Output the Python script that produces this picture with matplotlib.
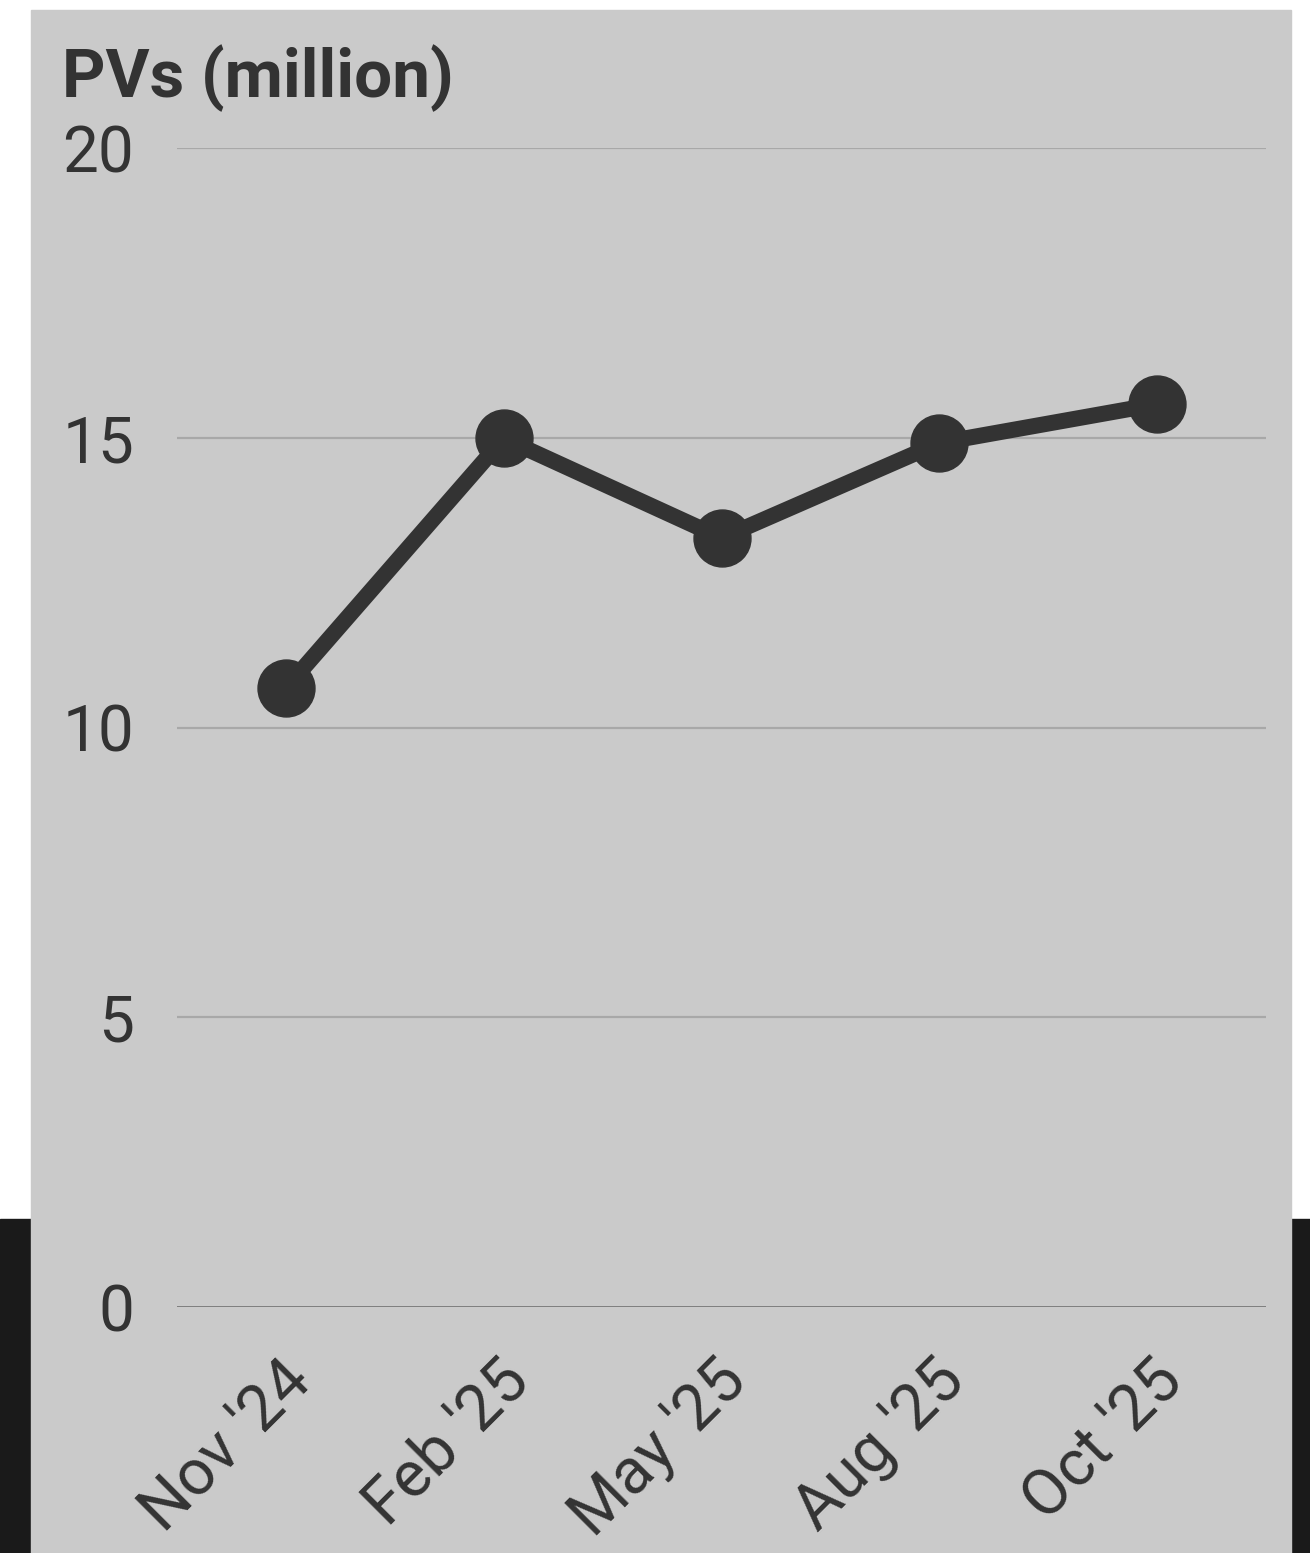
import matplotlib.pyplot as plt
from matplotlib.patches import Rectangle
from matplotlib.transforms import ScaledTranslation

months = ["Nov '24", "Feb '25", "May '25", "Aug '25", "Oct '25"]
pvs = [10.68, 14.99, 13.27, 14.91, 15.58]
yticks = [0, 5, 10, 15, 20]

W, H = 1310, 1553
fig = plt.figure(figsize=(W/100, H/100), dpi=100)
plt.rcParams['font.family'] = ['Roboto', 'DejaVu Sans']

# backdrop: dark band at the bottom, grey panel on top
fig.patches.append(Rectangle((0, 0), 1, 1-1219/H, transform=fig.transFigure,
                             color='#1a1a1a', zorder=-2))
fig.patches.append(Rectangle((31/W, 0), (1291-31)/W, 1-10/H, transform=fig.transFigure,
                             color='#cacaca', zorder=-1))

ax = fig.add_axes([177/W, 1-1307/H, (1266-177)/W, (1307-148)/H])
ax.patch.set_alpha(0)
for s in ax.spines.values():
    s.set_visible(False)

for t in yticks[1:]:
    ax.axhline(t, color='#a8a8a8', lw=1.6, zorder=1)
ax.axhline(0, color='#777777', lw=2, zorder=1)

x = list(range(len(months)))
ax.plot(x, pvs, color='#333333', lw=11.5, marker='o', ms=41, zorder=3, clip_on=False,
        solid_capstyle='round')

ax.set_xlim(-0.5, 4.5)
ax.set_ylim(0, 20)
ax.set_yticks(yticks)
ax.set_yticklabels([str(t) for t in yticks], fontsize=46, color='#333333')
ax.set_xticks(x)
ax.set_xticklabels(months, fontsize=46, color='#333333', rotation=45,
                   ha='right', va='center', rotation_mode='anchor')
ax.tick_params(axis='y', length=0, pad=31)
ax.tick_params(axis='x', length=0, pad=30)
shift = ScaledTranslation(15/100, -22/100, fig.dpi_scale_trans)
for lab in ax.get_xticklabels():
    lab.set_transform(lab.get_transform() + shift)

fig.text(62/W, 1-97/H, "PVs (million)", fontsize=48.5, fontweight='bold',
         color='#333333', ha='left', va='baseline')

fig.savefig('out.png', dpi=100)
